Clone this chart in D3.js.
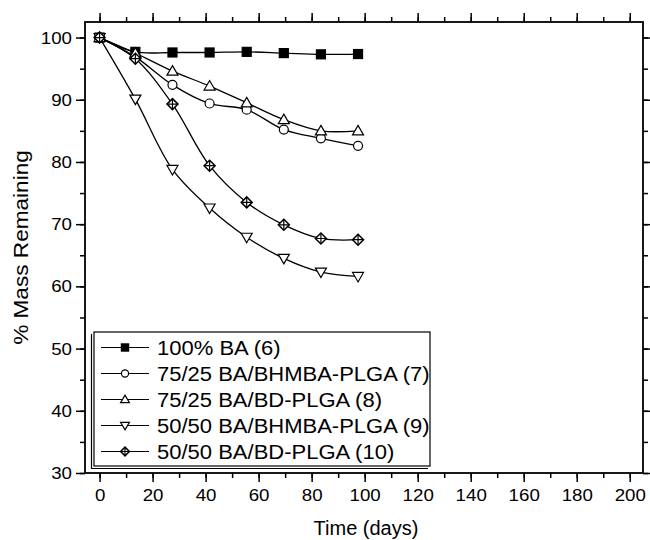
<!DOCTYPE html>
<html>
<head>
<meta charset="utf-8">
<script src="https://cdn.jsdelivr.net/npm/d3@7"></script>
<style>
  body { margin: 0; background: #fff; }
  svg text { font-family: "Liberation Sans", Arial, sans-serif; fill: #000; }
  .axis path { display: none; }
  .axis line { stroke: #000; stroke-width: 1.5; }
  .axis text { font-size: 17px; }
</style>
</head>
<body>
<svg width="650" height="540"></svg>
<script>
// Data
var days = [0, 13.5, 27.5, 41.5, 55.5, 69.5, 83.5, 97.5];
var ba100 = [100, 97.7, 97.6, 97.6, 97.7, 97.5, 97.3, 97.35];
var bhmba75 = [100, 96.9, 92.4, 89.4, 88.4, 85.2, 83.8, 82.6];
var bd75 = [100, 97.5, 94.6, 92.2, 89.5, 86.8, 85.0, 85.0];
var bhmba50 = [100, 90.1, 78.8, 72.6, 67.9, 64.5, 62.3, 61.6];
var bd50 = [100, 96.6, 89.3, 79.4, 73.5, 69.9, 67.7, 67.5];

var seriesNames = ['100% BA (6)', '75/25 BA/BHMBA-PLGA (7)', '75/25 BA/BD-PLGA (8)',
    '50/50 BA/BHMBA-PLGA (9)', '50/50 BA/BD-PLGA (10)'];
var seriesSymbols = ['square', 'circle', 'triangleUp', 'triangleDown', 'crossDiamond'];
var seriesValues = [ba100, bhmba75, bd75, bhmba50, bd50];

var xTicks = [0, 20, 40, 60, 80, 100, 120, 140, 160, 180, 200];
var yTicks = [30, 40, 50, 60, 70, 80, 90, 100];

var svg = d3.select('svg');

// Plot frame
var frame = {l: 85, r: 643, t: 22, b: 473};

var x = d3.scaleLinear().domain([-5.5, 205]).range([frame.l, frame.r]);
var y = d3.scaleLinear().domain([30, 102.5]).range([frame.b, frame.t]);

var xMinor = d3.range(0, 205, 10);
var yMinor = d3.range(30, 102, 5);

// the original type is a bit wider than Arial, so stretch the glyphs
function widen(sel, k) {
    sel.each(function() {
        var w = this.getComputedTextLength();
        d3.select(this).attr('textLength', w * k).attr('lengthAdjust', 'spacingAndGlyphs');
    });
}

// Minor ticks first, then major ones
function addAxis(axis, tr) {
    return svg.append('g').attr('class', 'axis').attr('transform', tr).call(axis);
}
addAxis(d3.axisBottom(x).tickValues(xMinor).tickSize(5).tickFormat(''), 'translate(0,' + frame.b + ')');
addAxis(d3.axisTop(x).tickValues(xMinor).tickSize(5).tickFormat(''), 'translate(0,' + frame.t + ')');
addAxis(d3.axisLeft(y).tickValues(yMinor).tickSize(5).tickFormat(''), 'translate(' + frame.l + ',0)');
addAxis(d3.axisRight(y).tickValues(yMinor).tickSize(5).tickFormat(''), 'translate(' + frame.r + ',0)');

var xAxisG = addAxis(d3.axisBottom(x).tickValues(xTicks).tickSize(9).tickPadding(7), 'translate(0,' + frame.b + ')');
addAxis(d3.axisTop(x).tickValues(xTicks).tickSize(9).tickFormat(''), 'translate(0,' + frame.t + ')');
var yAxisG = addAxis(d3.axisLeft(y).tickValues(yTicks).tickSize(9).tickPadding(4), 'translate(' + frame.l + ',0)');
addAxis(d3.axisRight(y).tickValues(yTicks).tickSize(9).tickFormat(''), 'translate(' + frame.r + ',0)');
widen(xAxisG.selectAll('text'), 1.1);
widen(yAxisG.selectAll('text'), 1.1);

svg.append('rect')
    .attr('x', frame.l).attr('y', frame.t)
    .attr('width', frame.r - frame.l).attr('height', frame.b - frame.t)
    .attr('fill', 'none').attr('stroke', '#000').attr('stroke-width', 1.8);

// Axis titles
svg.append('text')
    .attr('x', (frame.l + frame.r) / 2 + 2).attr('y', 535)
    .attr('text-anchor', 'middle').style('font-size', '20px')
    .text('Time (days)');
svg.append('text')
    .attr('transform', 'translate(28,' + (frame.t + frame.b) / 2 + ') rotate(-90)')
    .attr('text-anchor', 'middle').style('font-size', '20px')
    .text('% Mass Remaining')
    .call(widen, 1.13);

// Marker drawing
function drawMarker(g, type, s) {
    s = s || 1;
    g.attr('fill', 'none').attr('stroke', '#000').attr('stroke-width', 1.2);
    if (type === 'square') {
        g.append('rect').attr('x', -4.5 * s).attr('y', -4.5 * s)
            .attr('width', 9 * s).attr('height', 9 * s)
            .attr('fill', '#000');
    } else if (type === 'circle') {
        g.append('circle').attr('r', 4.5 * s).attr('fill', '#fff');
    } else if (type === 'triangleUp') {
        g.append('path').attr('d', 'M0,' + (-5.5 * s) + 'L' + (5.5 * s) + ',' + (4 * s) + 'L' + (-5.5 * s) + ',' + (4 * s) + 'Z')
            .attr('fill', '#fff');
    } else if (type === 'triangleDown') {
        g.append('path').attr('d', 'M0,' + (5.5 * s) + 'L' + (5.5 * s) + ',' + (-4 * s) + 'L' + (-5.5 * s) + ',' + (-4 * s) + 'Z')
            .attr('fill', '#fff');
    } else if (type === 'crossDiamond') {
        var r = 5.5 * s;
        g.append('path').attr('d', 'M0,' + (-r) + 'L' + r + ',0L0,' + r + 'L' + (-r) + ',0Z')
            .attr('fill', '#fff').attr('stroke-width', 1.5);
        g.append('path').attr('d', 'M0,' + (-r) + 'V' + r + 'M' + (-r) + ',0H' + r);
    }
}

var line = d3.line()
    .x(function(d) { return x(d.day); })
    .y(function(d) { return y(d.value); })
    .curve(d3.curveCatmullRom.alpha(0.5));

var plotG = svg.append('g');

seriesValues.forEach(function(values, i) {
    var pts = days.map(function(d, j) { return {day: d, value: values[j]}; });
    plotG.append('path')
        .datum(pts)
        .attr('d', line)
        .attr('fill', 'none')
        .attr('stroke', '#000')
        .attr('stroke-width', 1.3);
});

seriesValues.forEach(function(values, i) {
    var pts = days.map(function(d, j) { return {day: d, value: values[j]}; });
    plotG.selectAll('.m' + i)
        .data(pts)
        .enter().append('g')
        .attr('class', 'm' + i)
        .attr('transform', function(d) { return 'translate(' + x(d.day) + ',' + y(d.value) + ')'; })
        .each(function() { drawMarker(d3.select(this), seriesSymbols[i]); });
});

// Legend
var legend = {x0: 94, y0: 332, x1: 430, y1: 466};
svg.append('path')
    .attr('d', 'M' + (legend.x0 - 2.5) + ',' + (legend.y0 + 2) + 'V' + (legend.y1 + 2.5) + 'H' + (legend.x1 - 2))
    .attr('fill', 'none').attr('stroke', '#000').attr('stroke-width', 1.2);
svg.append('rect')
    .attr('x', legend.x0).attr('y', legend.y0)
    .attr('width', legend.x1 - legend.x0).attr('height', legend.y1 - legend.y0)
    .attr('fill', '#fff').attr('stroke', '#000').attr('stroke-width', 1.2);

var legendRow = d3.scaleLinear().domain([0, 4]).range([347.5, 451.5]);

seriesNames.forEach(function(name, i) {
    var g = svg.append('g').attr('transform', 'translate(0,' + legendRow(i) + ')');
    g.append('line').attr('x1', 101).attr('x2', 149).attr('y1', 0).attr('y2', 0)
        .attr('stroke', '#000').attr('stroke-width', 1.2);
    drawMarker(g.append('g').attr('transform', 'translate(125,0)'), seriesSymbols[i], 0.8);
    g.append('text').attr('x', 157).attr('y', 7).style('font-size', '20px').text(name)
        .call(widen, 1.1);
});
</script>
</body>
</html>
